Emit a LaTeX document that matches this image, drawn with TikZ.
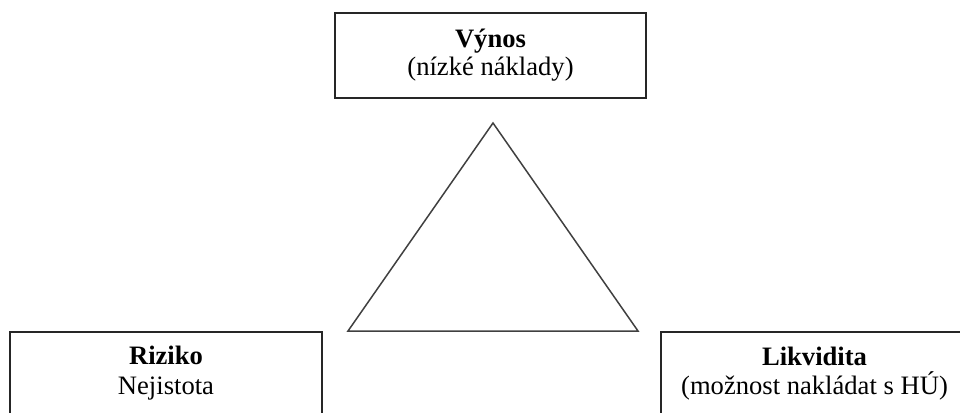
\documentclass[tikz,border=0pt]{standalone}
\usepackage{fontspec}
\setmainfont{Liberation Serif}
\begin{document}
\begin{tikzpicture}[x=1pt,y=-1pt,
  box/.style={draw=black!85, line width=1.3pt, inner sep=0pt, outer sep=0pt, anchor=north west},
  lbl/.style={anchor=base, inner sep=0pt, font=\fontsize{26.6}{29}\selectfont},
  tri/.style={draw=black!75, line width=1.5pt, line join=miter}]
\clip (0,0) rectangle (960,412);
% boxes
\node[box, minimum width=311pt, minimum height=85pt] (vynosbox) at (335,13) {};
\node[box, minimum width=312pt, minimum height=110pt] (rizikobox) at (10,332) {};
\node[box, minimum width=307pt, minimum height=110pt] (likvbox) at (661,332) {};
% texts
\node[lbl] (vynos) at (490.5,47.5) {\bfseries Výnos};
\node[lbl] (vynos2) at (490.5,75.5) {(nízké náklady)};
\node[lbl] (riziko) at (166,364) {\bfseries Riziko};
\node[lbl] (riziko2) at (166,394) {Nejistota};
\node[lbl] (likv) at (814.5,365) {\bfseries Likvidita};
\node[lbl] (likv2) at (814.5,394.5) {(možnost nakládat s HÚ)};
% triangle
\coordinate (apex) at (493,123);
\coordinate (bl) at (348,331);
\coordinate (br) at (638,331);
\draw[tri] (apex) -- (bl) -- (br) -- cycle;
\end{tikzpicture}
\end{document}
